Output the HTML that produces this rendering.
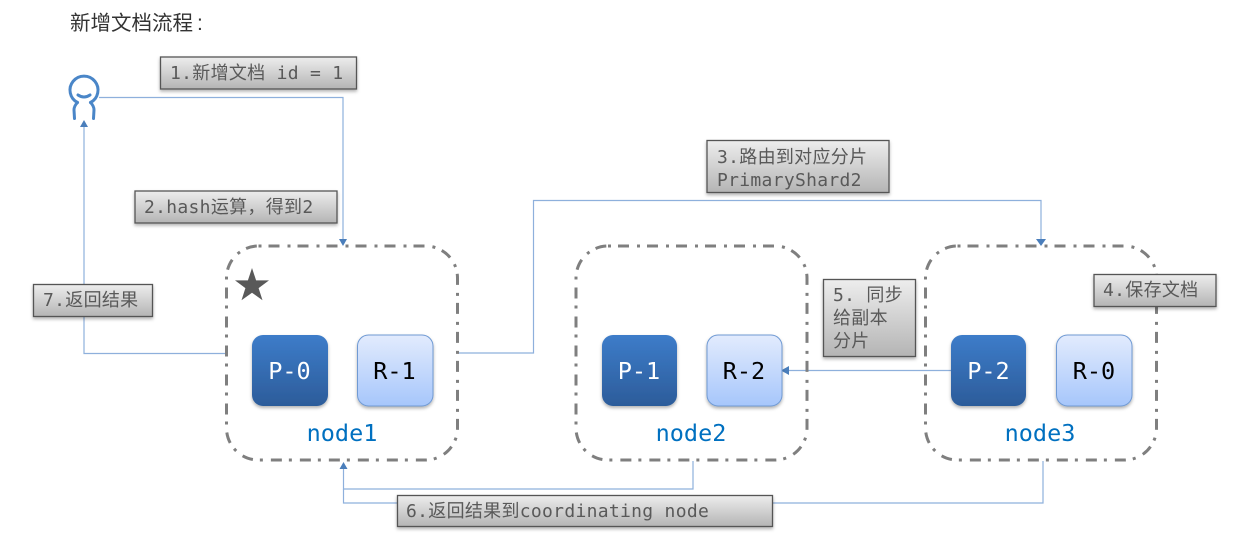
<!DOCTYPE html>
<html><head><meta charset="utf-8">
<style>
html,body{margin:0;padding:0;background:#fff;width:1246px;height:559px;overflow:hidden}
svg{display:block}
text{font-family:"DejaVu Sans Mono","Liberation Mono","Noto Sans CJK SC",monospace}
.l{font-size:18px;fill:#595959;letter-spacing:.3px}
.s{font-size:23.5px;text-anchor:middle}
.n{font-size:23.5px;fill:#0070c0;text-anchor:middle}
.c{fill:none;stroke:#8eb0dc;stroke-width:1.2}
.a{fill:#4a7ebb}
.b{fill:url(#g);stroke:#555;stroke-width:1.3;filter:url(#sh)}
.d{fill:none;stroke:#7f7f7f;stroke-width:3;stroke-dasharray:11 8 3 7;stroke-dashoffset:19}
</style></head><body>
<svg width="1246" height="559" viewBox="0 0 1246 559" xmlns="http://www.w3.org/2000/svg">
<defs>
<linearGradient id="g" x1="0" y1="0" x2="0" y2="1"><stop offset="0" stop-color="#ededed"/><stop offset="1" stop-color="#b4b4b4"/></linearGradient>
<linearGradient id="p" x1="0" y1="0" x2="0" y2="1"><stop offset="0" stop-color="#3d7cc9"/><stop offset="1" stop-color="#2c5c9a"/></linearGradient>
<linearGradient id="r" x1="0" y1="0" x2="0" y2="1"><stop offset="0" stop-color="#e2ebfd"/><stop offset="1" stop-color="#a6c6fb"/></linearGradient>
<filter id="sh" x="-10%" y="-10%" width="120%" height="130%"><feDropShadow dx="0" dy="2" stdDeviation="1.5" flood-color="#000" flood-opacity=".3"/></filter>
</defs>

<text x="70" y="30" style="font-family:'Liberation Sans','Noto Sans CJK SC',sans-serif;font-size:20.5px;fill:#333">新增文档流程</text>
<text x="197" y="30" style="font-family:'Liberation Sans',sans-serif;font-size:21px;fill:#333">:</text>

<!-- connectors -->
<polyline class="c" points="99,97.5 343,97.5 343,240"/>
<polygon class="a" points="339,239 347,239 343,246"/>
<polyline class="c" points="226,353.5 84,353.5 84,126"/>
<polygon class="a" points="80,127 88,127 84,120"/>
<polyline class="c" points="458,353 533.5,353 533.5,200.5 1041,200.5 1041,240"/>
<polygon class="a" points="1036,239 1046,239 1041,246"/>
<polyline class="c" points="951,370.5 788,370.5"/>
<polygon class="a" points="789,366 789,375 781,370.5"/>
<polyline class="c" points="693,461 693,489 343.5,489 343.5,468"/>
<polyline class="c" points="1043,461 1043,503 343.5,503 343.5,489"/>
<polygon class="a" points="339.5,469 347.5,469 343.5,462"/>

<!-- person -->
<g fill="none" stroke="#4a86c8" stroke-width="3" stroke-linecap="round">
<path d="M77.500,102.500 A14,14 0 1 1 90.500,102.500"/>
<path d="M78,95 Q84,99 90,95"/>
<path d="M77.500,102.500 Q74,106 74,110 L74.500,118.500 M90.500,102.500 Q94,106 94,110 L93.500,118.500"/>
</g>

<!-- containers -->
<rect class="d" x="226.500" y="246" width="231" height="214" rx="32"/>
<rect class="d" x="576" y="246" width="231" height="214" rx="32"/>
<rect class="d" x="925.500" y="246" width="231" height="214" rx="32"/>

<!-- star -->
<polygon fill="#595959" points="252,268 256.100,280.400 269,280.400 258.600,288.100 262.500,300.200 252,292.700 241.500,300.200 245.400,288.100 235,280.400 247.900,280.400"/>

<!-- shards -->
<g filter="url(#sh)">
<rect x="252" y="335" width="76" height="71" rx="11" fill="url(#p)"/>
<rect x="357.500" y="335" width="75.500" height="71" rx="11" fill="url(#r)" stroke="#6f9ad4"/>
<rect x="602" y="335" width="75" height="71" rx="11" fill="url(#p)"/>
<rect x="707" y="335" width="75" height="71" rx="11" fill="url(#r)" stroke="#6f9ad4"/>
<rect x="951" y="335" width="75" height="71" rx="11" fill="url(#p)"/>
<rect x="1056.500" y="335" width="75.500" height="71" rx="11" fill="url(#r)" stroke="#6f9ad4"/>
</g>
<text class="s" x="289.500" y="379" fill="#fff">P-0</text>
<text class="s" x="394.500" y="379" fill="#000">R-1</text>
<text class="s" x="639" y="379" fill="#fff">P-1</text>
<text class="s" x="744" y="379" fill="#000">R-2</text>
<text class="s" x="988.500" y="379" fill="#fff">P-2</text>
<text class="s" x="1094" y="379" fill="#000">R-0</text>
<text class="n" x="342" y="441">node1</text>
<text class="n" x="691" y="441">node2</text>
<text class="n" x="1040" y="441">node3</text>

<!-- label boxes -->
<rect class="b" x="160.500" y="57" width="196" height="32"/>
<text class="l" x="170" y="79">1.新增文档 id = 1</text>
<rect class="b" x="135" y="191" width="202" height="32"/>
<text class="l" x="144" y="213">2.hash运算&#xFF0C;得到2</text>
<rect class="b" x="33.500" y="284.500" width="119" height="32"/>
<text class="l" x="43" y="306">7.返回结果</text>
<rect class="b" x="707" y="140.500" width="182" height="52"/>
<text class="l" x="717" y="163">3.路由到对应分片</text>
<text class="l" x="717" y="186">PrimaryShard2</text>
<rect class="b" x="823.500" y="279.500" width="92" height="77"/>
<text class="l" x="833" y="301">5. 同步</text>
<text class="l" x="833" y="324">给副本</text>
<text class="l" x="833" y="347">分片</text>
<rect class="b" x="1094" y="274.500" width="122" height="32"/>
<text class="l" x="1103" y="296">4.保存文档</text>
<rect class="b" x="397.500" y="495.500" width="375" height="31"/>
<text class="l" x="406" y="517">6.返回结果到coordinating node</text>
</svg>
</body></html>
